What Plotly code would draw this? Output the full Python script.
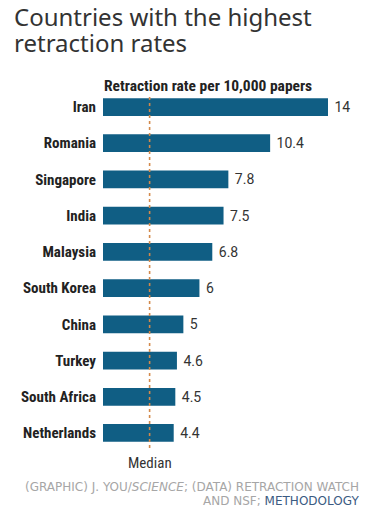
import plotly.graph_objects as go

countries = ["Iran", "Romania", "Singapore", "India", "Malaysia", "South Korea",
             "China", "Turkey", "South Africa", "Netherlands"]
rates = [14, 10.4, 7.8, 7.5, 6.8, 6, 5, 4.6, 4.5, 4.4]
median_rate = 2.9
rate_labels = ["14", "10.4", "7.8", "7.5", "6.8", "6", "5", "4.6", "4.5", "4.4"]

W, H = 378, 511
L, T, R, B = 103, 90, 0, 41
pw, ph = W - L - R, H - T - B

def px_x(x):
    """reference pixel x -> paper x"""
    return (x - L) / pw

def px_y(y):
    """reference pixel y -> paper y"""
    return (H - B - y) / ph

BAR = "#105e84"
COND = "Liberation Sans Narrow, Roboto Condensed, Roboto, sans-serif"
TITLE_FONT = dict(family="Noto Sans, sans-serif", size=24, color="#333333")
FOOT_FONT = dict(family="DejaVu Sans, sans-serif", size=12, color="#a6a6a6")

fig = go.Figure()
fig.add_trace(go.Bar(
    x=rates, y=list(range(len(countries))), orientation="h",
    marker=dict(color=BAR, line=dict(width=0)), width=0.49,
    text=rate_labels, texttemplate=" %{text}", textposition="outside",
    textfont=dict(family="Roboto, sans-serif", size=14, color="#333333"),
    cliponaxis=False, hoverinfo="skip",
))

fig.add_shape(type="line", xref="x", yref="paper", x0=median_rate, x1=median_rate,
              y0=px_y(97), y1=px_y(448),
              line=dict(color="#d2894b", width=1.6, dash="3px,3px"), layer="above")

fig.update_layout(
    width=W, height=H, margin=dict(l=L, r=R, t=T, b=B),
    paper_bgcolor="white", plot_bgcolor="white", showlegend=False,
    xaxis=dict(range=[0, pw / (225 / 14)], visible=False, fixedrange=True),
    yaxis=dict(range=[len(countries) - 1 + 37 / 36.2, -17 / 36.2],
               tickmode="array", tickvals=list(range(len(countries))),
               ticktext=["<b>%s</b>" % c for c in countries],
               tickfont=dict(family=COND, size=15, color="#222222"),
               showgrid=False, zeroline=False, showline=False, ticks="",
               ticklabelstandoff=6, fixedrange=True),
    annotations=[
        dict(text="Countries with the highest", xref="paper", yref="paper",
             x=px_x(12), y=px_y(35), xanchor="left", yanchor="bottom",
             showarrow=False, font=TITLE_FONT),
        dict(text="retraction rates", xref="paper", yref="paper",
             x=px_x(12), y=px_y(61), xanchor="left", yanchor="bottom",
             showarrow=False, font=TITLE_FONT),
        dict(text="<b>Retraction rate per 10,000 papers</b>", xref="paper", yref="paper",
             x=px_x(208), y=px_y(86), xanchor="center", yanchor="middle",
             showarrow=False, font=dict(family=COND, size=15.5, color="#222222")),
        dict(text="Median", xref="x", yref="paper", x=median_rate, y=px_y(463),
             xanchor="center", yanchor="middle", showarrow=False,
             font=dict(family=COND, size=15, color="#333333")),
        dict(text="(GRAPHIC) J. YOU/<i>SCIENCE</i>; (DATA) RETRACTION WATCH", xref="paper", yref="paper",
             x=px_x(361), y=px_y(487), xanchor="right", yanchor="middle", showarrow=False,
             font=FOOT_FONT),
        dict(text="AND NSF; <span style='color:#3b5b82'>METHODOLOGY</span>", xref="paper", yref="paper",
             x=px_x(361), y=px_y(501), xanchor="right", yanchor="middle", showarrow=False,
             font=FOOT_FONT),
    ],
)

fig.write_html("out.html", config={"displayModeBar": False},
               post_script="document.body.style.margin='0px';")
